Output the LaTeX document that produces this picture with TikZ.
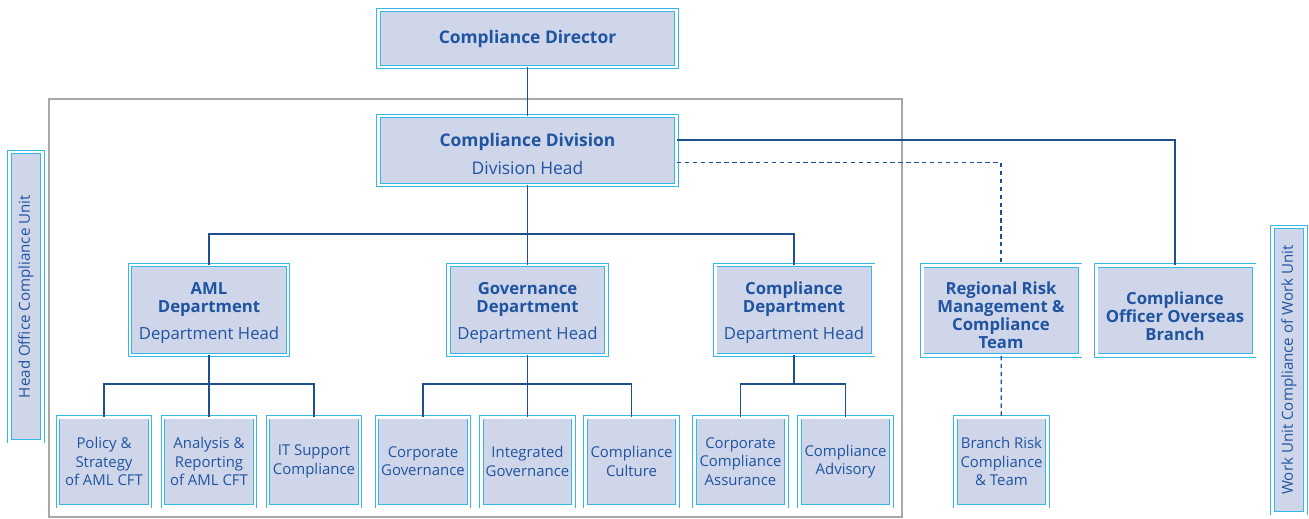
\documentclass[tikz,border=0pt]{standalone}
\usepackage{fontspec}
\setmainfont{Open Sans}
\usepackage{xcolor}

\definecolor{boxline}{HTML}{35B8E8}
\definecolor{boxfill}{HTML}{D0D6EA}
\definecolor{txtblue}{HTML}{1F54A0}
\definecolor{linkblue}{HTML}{1F4F8F}
\definecolor{framegray}{HTML}{A8A8A8}

\newcommand{\topgap}[1]{\rule{0pt}{#1}}

\begin{document}
\begin{tikzpicture}[
		unit/.style={
			draw=boxline, line width=0.5pt, double=white, double distance=1.7pt,
			fill=boxfill, text=txtblue, rectangle, align=center, inner sep=2pt
		},
		top/.style={
			unit, minimum width=5.96cm, font=\fontsize{9.9}{11.5}\selectfont\bfseries
		},
		dept/.style={
			unit, minimum width=3.16cm, minimum height=1.8cm,
			font=\fontsize{9.5}{10.3}\selectfont
		},
		team/.style={
			unit, minimum width=1.84cm, minimum height=1.78cm,
			font=\fontsize{8.5}{10.4}\selectfont
		},
		side/.style={
			unit, rotate=90, minimum height=0.66cm,
			font=\fontsize{8.6}{10}\selectfont
		},
		link/.style={linkblue, line width=0.7pt},
		dlink/.style={link, dashed, dash pattern=on 2.5pt off 2pt},
		]
		
		\useasboundingbox (0,0) rectangle (26.18,-10.36);
		\draw[framegray, line width=0.7pt] (0.98,-1.98) rectangle (18.04,-10.34);
		
		\node[top, minimum height=1.14cm] (director) at (10.55,-0.77) {Compliance Director};
		\node[top, minimum height=1.38cm] (division) at (10.55,-3.01)
			{\topgap{11.5pt}Compliance Division\\[4pt]{\mdseries Division Head}};
		
		\node[dept] (aml) at (4.18,-6.2)
			{\topgap{10.5pt}\textbf{AML}\\\textbf{Department}\\[5pt]Department Head};
		\node[dept] (gov) at (10.55,-6.2)
			{\topgap{10.5pt}\textbf{Governance}\\\textbf{Department}\\[5pt]Department Head};
		\node[dept] (cdept) at (15.88,-6.2)
			{\topgap{10.5pt}\textbf{Compliance}\\\textbf{Department}\\[5pt]Department Head};
		\node[dept, font=\fontsize{9.5}{10.2}\selectfont\bfseries] (regional) at (20.02,-6.21)
			{\topgap{12.8pt}Regional Risk\\Management \&\\Compliance\\Team};
		\node[dept, font=\fontsize{9.5}{10.2}\selectfont\bfseries] (overseas) at (23.5,-6.21)
			{\topgap{13.9pt}Compliance\\Officer Overseas\\Branch};
		
		\node[team] (policy)   at (2.08,-9.23)  {Policy \&\\Strategy\\of AML CFT};
		\node[team] (analysis) at (4.18,-9.23)  {Analysis \&\\Reporting\\of AML CFT};
		\node[team] (itsup)    at (6.28,-9.23)  {IT Support\\Compliance};
		\node[team] (corpgov)  at (8.46,-9.23)  {Corporate\\Governance};
		\node[team] (intgov)   at (10.55,-9.23) {Integrated\\Governance};
		\node[team] (culture)  at (12.63,-9.23) {Compliance\\Culture};
		\node[team] (assur)    at (14.81,-9.23) {Corporate\\Compliance\\Assurance};
		\node[team] (advisory) at (16.91,-9.23) {Compliance\\Advisory};
		\node[team] (branch)   at (20.03,-9.23) {Branch Risk\\Compliance\\\& Team};
		
		\node[side, minimum width=5.78cm] (headunit) at (0.52,-5.93) {Head Office Compliance Unit};
		\node[side, minimum width=5.72cm] (workunit) at (25.78,-7.4) {Work Unit Compliance of Work Unit};
		
		\coordinate (divbus)  at (10.55,-4.68);
		\coordinate (amlbus)  at (4.18,-7.68);
		\coordinate (govbus)  at (10.55,-7.68);
		\coordinate (cdbus)   at (15.88,-7.68);
		
		\draw[link] (director) -- (division);
		\draw[link] (division) -- (divbus) -| (aml.north);
		\draw[link] (divbus) -| (cdept.north);
		\draw[link] (divbus) -- (gov);
		\draw[link] ([yshift=6pt]division.east) -| (overseas.north);
		\draw[dlink] ([yshift=-7pt]division.east) -| (regional.north);
		
		\draw[link] (aml) -- (amlbus) -| (policy.north);
		\draw[link] (amlbus) -| (itsup.north);
		\draw[link] (amlbus) -- (analysis);
		\draw[link] (gov) -- (govbus) -| (corpgov.north);
		\draw[link] (govbus) -| (culture.north);
		\draw[link] (govbus) -- (intgov);
		\draw[link] (cdept) -- (cdbus) -| (assur.north);
		\draw[link] (cdbus) -| (advisory.north);
		\draw[dlink] (regional) -- (branch);
		
	\end{tikzpicture}
\end{document}
